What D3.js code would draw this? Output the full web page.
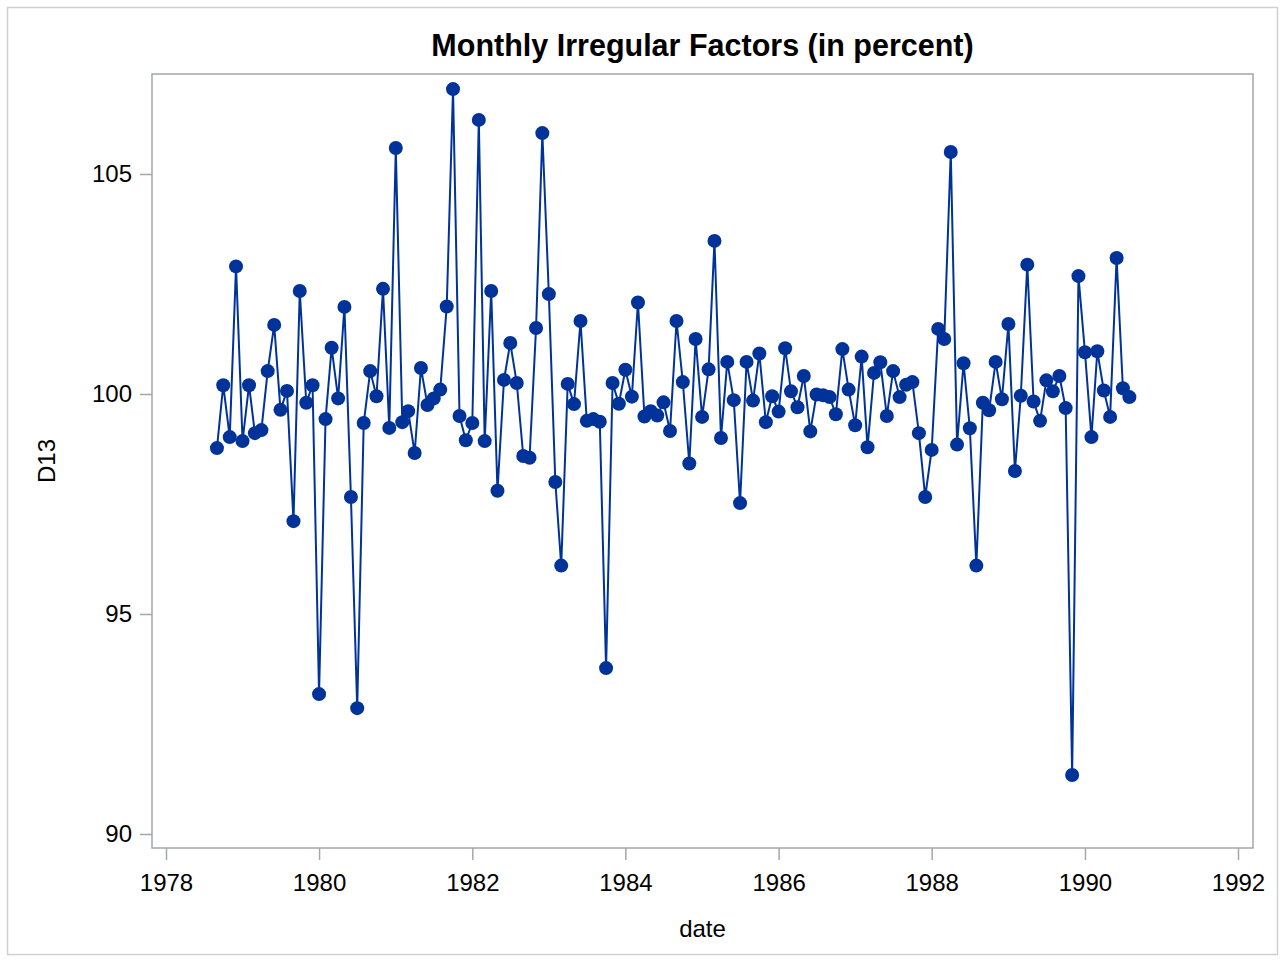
<!DOCTYPE html>
<html>
<head>
	<title>Monthly Irregular Factors</title>
	<script src="https://d3js.org/d3.v7.min.js"></script>
	<style>
	html, body {margin: 0; background: white; overflow: hidden}
	text {font-family: "Liberation Sans", Arial, sans-serif; fill: #000}
	.frame {fill: none; stroke: #a3a7ab; stroke-width: 1.5px}
	.border {fill: none; stroke: #d0d0d0; stroke-width: 1.5px}
	.axis path {display: none}
	.axis line {stroke: #a3a7ab; stroke-width: 1.5px}
	.axis text {font-size: 24px}
	.series {fill: none; stroke: #003399; stroke-width: 2px}
	.dot {fill: #003399}
	</style>
</head>
<body>
<script>
	// first month of the series (Sep 1978), then one value per month
	var startYear = 1978;
	var startMonth = 8;
	var d13 = [
		98.77, 100.2, 99.02, 102.9, 98.93, 100.2, 99.11, 99.18, 100.52, 101.57, 99.64, 100.07,
		97.11, 102.34, 99.8, 100.2, 93.18, 99.43, 101.05, 99.9, 101.98, 97.66, 92.86, 99.34,
		100.52, 99.95, 102.39, 99.23, 105.59, 99.36, 99.61, 98.66, 100.59, 99.75, 99.9, 100.1,
		101.99, 106.93, 99.5, 98.95, 99.34, 106.23, 98.93, 102.34, 97.8, 100.32, 101.16, 100.25,
		98.59, 98.55, 101.5, 105.93, 102.27, 98.0, 96.1, 100.23, 99.77, 101.66, 99.39, 99.43,
		99.37, 93.77, 100.25, 99.78, 100.55, 99.94, 102.08, 99.49, 99.61, 99.51, 99.81, 99.16,
		101.66, 100.27, 98.42, 101.25, 99.48, 100.56, 103.48, 99.0, 100.73, 99.86, 97.52, 100.73,
		99.85, 100.92, 99.36, 99.95, 99.6, 101.04, 100.06, 99.7, 100.41, 99.15, 99.99, 99.97,
		99.93, 99.54, 101.02, 100.1, 99.29, 100.85, 98.79, 100.48, 100.72, 99.5, 100.52, 99.93,
		100.21, 100.27, 99.11, 97.66, 98.73, 101.48, 101.25, 105.5, 98.85, 100.7, 99.22, 96.1,
		99.8, 99.63, 100.73, 99.88, 101.59, 98.25, 99.96, 102.94, 99.83, 99.39, 100.31, 100.06,
		100.41, 99.68, 91.34, 102.68, 100.95, 99.02, 100.97, 100.08, 99.48, 103.09, 100.13, 99.93
	];
	var xTicks = [1978, 1980, 1982, 1984, 1986, 1988, 1990, 1992];
	var yTicks = [90, 95, 100, 105];

	var width = 1285, height = 962;
	var frame = {left: 152, right: 1253, top: 74, bottom: 848};

	var data = d13.map(function(v, i){
		return {date: new Date(startYear, startMonth + i, 1), value: v};
	});

	var x = d3.scaleTime()
		.domain([new Date(1978, 0, 1), new Date(1992, 0, 1)])
		.range([166, 1238]);

	var y = d3.scaleLinear()
		.domain([90, 105])
		.range([834, 174]);

	var svg = d3.select("body").append("svg")
		.attr("width", width)
		.attr("height", height);

	svg.append("rect")
		.attr("class", "border")
		.attr("x", 7.5)
		.attr("y", 7.5)
		.attr("width", 1270)
		.attr("height", 947);

	svg.append("text")
		.attr("x", (frame.left + frame.right) / 2)
		.attr("y", 56)
		.attr("text-anchor", "middle")
		.attr("font-size", "30.5px")
		.attr("font-weight", "bold")
		.text("Monthly Irregular Factors (in percent)");

	var xAxis = d3.axisBottom(x)
		.tickValues(xTicks.map(function(yr){ return new Date(yr, 0, 1); }))
		.tickFormat(d3.timeFormat("%Y"))
		.tickSize(12)
		.tickPadding(14);

	svg.append("g")
		.attr("class", "axis")
		.attr("transform", "translate(0," + frame.bottom + ")")
		.call(xAxis);

	var yAxis = d3.axisLeft(y)
		.tickValues(yTicks)
		.tickSize(12)
		.tickPadding(8);

	svg.append("g")
		.attr("class", "axis")
		.attr("transform", "translate(" + frame.left + ",0)")
		.call(yAxis);

	svg.append("rect")
		.attr("class", "frame")
		.attr("x", frame.left)
		.attr("y", frame.top)
		.attr("width", frame.right - frame.left)
		.attr("height", frame.bottom - frame.top);

	var line = d3.line()
		.x(function(d){ return x(d.date); })
		.y(function(d){ return y(d.value); });

	svg.append("path")
		.datum(data)
		.attr("class", "series")
		.attr("d", line);

	svg.append("g")
		.selectAll("circle")
		.data(data)
		.enter().append("circle")
		.attr("class", "dot")
		.attr("cx", function(d){ return x(d.date); })
		.attr("cy", function(d){ return y(d.value); })
		.attr("r", 7);

	svg.append("text")
		.attr("x", (frame.left + frame.right) / 2)
		.attr("y", 937)
		.attr("text-anchor", "middle")
		.attr("font-size", "24px")
		.text("date");

	svg.append("text")
		.attr("transform", "translate(55," + (frame.top + frame.bottom) / 2 + ")rotate(-90)")
		.attr("text-anchor", "middle")
		.attr("font-size", "24px")
		.text("D13");
</script>
</body>
</html>
